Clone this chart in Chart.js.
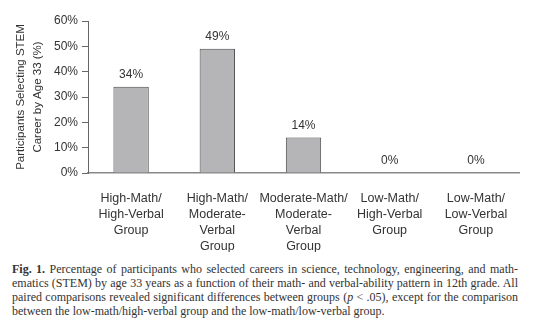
<!DOCTYPE html>
<html>
<head>
<meta charset="utf-8">
<script src="https://cdn.jsdelivr.net/npm/chart.js@4"></script>
<style>
  body { margin: 0; background: #fff; width: 535px; height: 324px; overflow: hidden; position: relative; }
  #wrap { position: absolute; left: 0; top: 0; width: 535px; height: 252px; }
  #caption {
    position: absolute; left: 12px; top: 262px; width: 506px;
    font-family: "Liberation Serif", "DejaVu Serif", serif; font-size: 12px; line-height: 14px;
    color: #333;
  }
  #caption div { text-align: justify; text-align-last: justify; white-space: nowrap; }
  #caption div:last-child { text-align-last: left; }
</style>
</head>
<body>
<div id="wrap"><canvas id="grafico"></canvas></div>
<div id="caption">
  <div><b>Fig. 1.</b> Percentage of participants who selected careers in science, technology, engineering, and math-</div>
  <div>ematics (STEM) by age 33 years as a function of their math- and verbal-ability pattern in 12th grade. All</div>
  <div>paired comparisons revealed significant differences between groups (<i>p</i> &lt; .05), except for the comparison</div>
  <div>between the low-math/high-verbal group and the low-math/low-verbal group.</div>
</div>
<script>
// ======== DADOS ========
const grupos = [
    ["High-Math/", "High-Verbal", "Group"],
    ["High-Math/", "Moderate-", "Verbal", "Group"],
    ["Moderate-Math/", "Moderate-", "Verbal", "Group"],
    ["Low-Math/", "High-Verbal", "Group"],
    ["Low-Math/", "Low-Verbal", "Group"]
];
const percentuais = [34, 49, 14, 0, 0];
const ticksY = [0, 10, 20, 30, 40, 50, 60];
const tituloY = ["Participants Selecting STEM", "Career by Age 33 (%)"];

const fonte = '"Liberation Sans", Arial, sans-serif';

// rótulos em cima das barras + título do eixo Y centralizado
const rotulos = {
    id: "rotulos",
    afterDatasetsDraw(chart) {
        const ctx = chart.ctx;
        const meta = chart.getDatasetMeta(0);
        ctx.save();
        ctx.font = "12px " + fonte;
        ctx.fillStyle = "#333";
        ctx.textAlign = "center";
        ctx.textBaseline = "middle";
        meta.data.forEach((bar, i) => {
            ctx.fillText(percentuais[i] + "%", bar.x, bar.y - 12);
        });
        ctx.restore();

        // título Y (duas linhas, centradas)
        const area = chart.chartArea;
        const cy = (area.top + area.bottom) / 2;
        ctx.save();
        ctx.font = "11.5px " + fonte;
        ctx.fillStyle = "#333";
        ctx.textAlign = "center";
        ctx.textBaseline = "middle";
        ctx.translate(21, cy);
        ctx.rotate(-Math.PI / 2);
        ctx.fillText(tituloY[0], 0, 0);
        ctx.fillText(tituloY[1], 0, 17);
        ctx.restore();
    }
};

new Chart(document.getElementById("grafico"), {
    type: "bar",
    data: {
        labels: grupos,
        datasets: [{
            data: percentuais,
            backgroundColor: "#b5b5b7",
            borderColor: "#4a4a4a",
            borderWidth: 1,
            barPercentage: 0.41,
            categoryPercentage: 1
        }]
    },
    options: {
        responsive: true,
        maintainAspectRatio: false,
        animation: false,
        layout: { padding: { top: 21, right: 16, left: 0, bottom: 0 } },
        plugins: { legend: { display: false }, tooltip: { enabled: false } },
        scales: {
            x: {
                grid: { display: false },
                border: { display: true, color: "#888", width: 1.5 },
                ticks: {
                    color: "#333",
                    font: { family: fonte, size: 12.5, lineHeight: 1.28 },
                    maxRotation: 0,
                    autoSkip: false,
                    padding: 10
                },
                afterFit: s => { s.height = 79; }
            },
            y: {
                min: 0,
                max: 60,
                afterBuildTicks: s => { s.ticks = ticksY.map(v => ({ value: v })); },
                grid: { drawOnChartArea: false, drawTicks: true, tickLength: 6, color: "#666" },
                border: { display: true, color: "#666", width: 1 },
                ticks: {
                    color: "#333",
                    font: { family: fonte, size: 12 },
                    padding: 4,
                    callback: v => v + "%"
                },
                afterFit: s => { s.width = 88; }
            }
        }
    },
    plugins: [rotulos]
});
</script>
</body>
</html>
